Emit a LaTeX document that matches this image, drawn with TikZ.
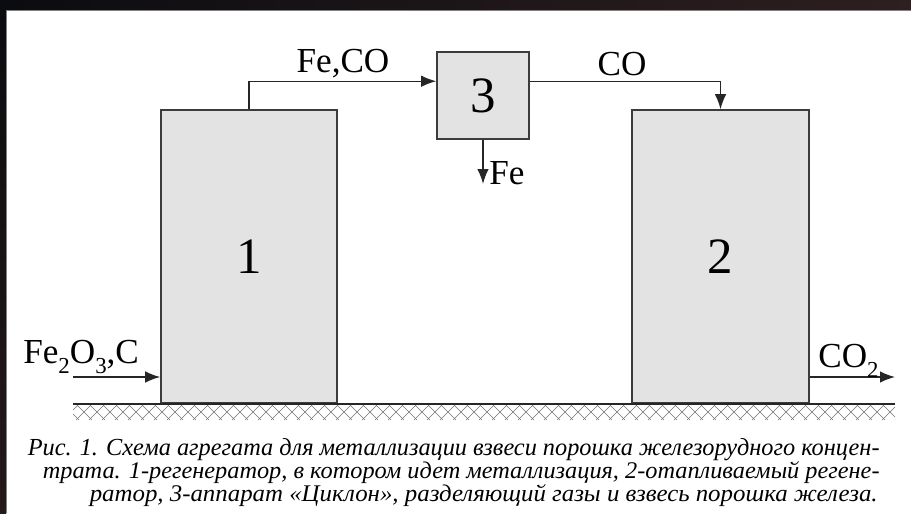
\documentclass[tikz,border=0pt]{standalone}
\usepackage{fontspec}
\setmainfont{Liberation Serif}[ItalicFont={Liberation Serif Italic}]
\usepackage{graphicx}
\usetikzlibrary{arrows.meta,positioning,calc}

\definecolor{boxgray}{HTML}{E3E3E3}
\definecolor{edgegray}{HTML}{3C3C3C}
\definecolor{framedark}{HTML}{0B0C10}
\definecolor{framebrown}{HTML}{2E1F20}

\newcommand{\capline}[2]{\resizebox{#1}{0.34cm}{\itshape #2}}
\newcommand{\lowsub}[1]{\raisebox{-0.3em}{\fontsize{13}{13}\selectfont #1}}

\begin{document}
\begin{tikzpicture}[x=0.02cm,y=-0.02cm,
  unit/.style={draw=edgegray,line width=0.9pt,fill=boxgray,inner sep=0pt,font=\fontsize{29}{31}\selectfont},
  flow/.style={draw=black!85,line width=0.8pt,-{Latex[length=3mm,width=2.3mm]}},
  lbl/.style={inner sep=0pt,font=\fontsize{20}{22}\selectfont},
  hatch/.style={draw=black!55,line width=0.35pt}]
\useasboundingbox (0,0) rectangle (911,513);

\shade[left color=framedark,right color=framebrown] (0,0) rectangle (911,10);
\shade[top color=framedark,bottom color=framebrown!80!black] (0,0) rectangle (6,513);
\draw[gray,line width=1pt] (6.5,513) -- (6.5,10.5) -- (911,10.5);

\node[unit,minimum width=3.52cm,minimum height=5.86cm] (reg1) at (249,256.5) {1};
\node[unit,minimum width=1.84cm,minimum height=1.74cm] (cyc) at (483,95.5) {3};
\node[unit,minimum width=3.54cm,minimum height=5.86cm] (reg2) at (720.5,256.5) {2};

\begin{scope}
\clip (73,404) rectangle (895,420);
\foreach \x in {50,63,...,900} {
  \draw[hatch] (\x,404) -- ++(16,16);
  \draw[hatch] (\x,420) -- ++(16,-16);
}
\end{scope}
\draw[black!85,line width=1.2pt] (73,404) -- (895,404);

\coordinate (in1) at (73,377);
\coordinate (out2) at (895,377);
\coordinate (fe) at (483,184);

\draw[flow] (in1) -- (in1 -| reg1.west);
\draw[flow] (reg1.north) |- ($(cyc.north west)+(0,30)$);
\draw[flow] ($(cyc.north east)+(0,30)$) -| (reg2.north);
\draw[flow] (cyc.south) -- (fe);
\draw[flow] (reg2.east |- out2) -- (out2);

\node[lbl,anchor=base] (lfeco) at (343,73) {Fe,CO};
\node[lbl,anchor=base] (lco) at (622,76) {CO};
\node[lbl,anchor=base west] (lfe) at (489,184) {Fe};
\node[lbl,anchor=base west] (lore) at (23,363) {Fe\lowsub{2}O\lowsub{3},C};
\node[lbl,anchor=base west] (lco2) at (818,367) {CO\lowsub{2}};

\node[inner sep=0pt,anchor=base east] (cap1) at (880,455) {\capline{17.04cm}{Рис. 1. Схема агрегата для металлизации взвеси порошка железорудного концен-}};
\node[inner sep=0pt,anchor=base east] (cap2) at (880,478) {\capline{16.74cm}{трата. 1-регенератор, в котором идет металлизация, 2-отапливаемый регене-}};
\node[inner sep=0pt,anchor=base east] (cap3) at (878,501) {\capline{15.76cm}{ратор, 3-аппарат «Циклон», разделяющий газы и взвесь порошка железа.}};
\end{tikzpicture}
\end{document}
